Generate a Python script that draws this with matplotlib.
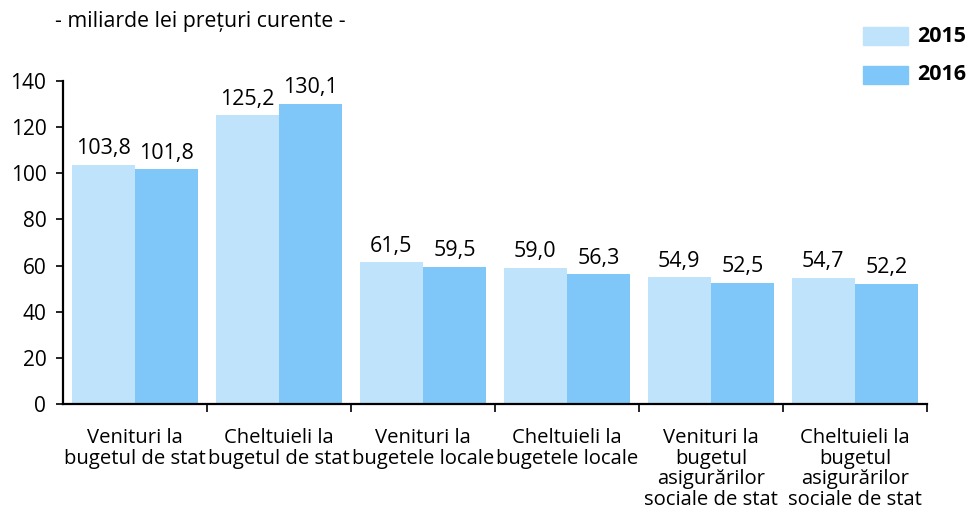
import numpy as np
import matplotlib.pyplot as plt
from matplotlib.patches import Rectangle

categories = [
    "Venituri la\nbugetul de stat",
    "Cheltuieli la\nbugetul de stat",
    "Venituri la\nbugetele locale",
    "Cheltuieli la\nbugetele locale",
    "Venituri la\nbugetul\nasigurărilor\nsociale de stat",
    "Cheltuieli la\nbugetul\nasigurărilor\nsociale de stat",
]
v2015 = [103.8, 125.2, 61.5, 59.0, 54.9, 54.7]
v2016 = [101.8, 130.1, 59.5, 56.3, 52.5, 52.2]
years = ["2015", "2016"]
yticks = [0, 20, 40, 60, 80, 100, 120, 140]

c15 = "#bee3fb"
c16 = "#80c7f9"

plt.rcParams["font.family"] = ["Open Sans", "DejaVu Sans"]

fig = plt.figure(figsize=(9.72, 5.13), dpi=100)
ax = fig.add_axes([63 / 972, 1 - 404 / 513, 864 / 972, 323 / 513])

x = np.arange(len(categories)) + 0.5
w = 0.44
b1 = ax.bar(x - w / 2, v2015, w, color=c15)
b2 = ax.bar(x + w / 2, v2016, w, color=c16)

fmt = lambda v: f"{v:.1f}".replace(".", ",")
for bars, vals in ((b1, v2015), (b2, v2016)):
    for r, v in zip(bars, vals):
        ax.annotate(fmt(v), (r.get_x() + r.get_width() / 2, v), xytext=(0, 4),
                    textcoords="offset points", ha="center", va="bottom", fontsize=15.5)

ax.set_xlim(0, len(categories))
ax.set_ylim(0, 140)
ax.set_yticks(yticks)
ax.set_yticklabels([str(t) for t in yticks], fontsize=15)
ax.tick_params(axis="y", length=5, width=1.2, pad=7)

ax.set_xticks(np.arange(1, len(categories) + 1))
ax.set_xticklabels([])
ax.tick_params(axis="x", which="major", length=6, width=1.2)
ax.set_xticks(x, minor=True)
ax.set_xticklabels(categories, minor=True, fontsize=14.6, linespacing=1.06, va="top")
ax.tick_params(axis="x", which="minor", length=0, pad=17)

for s in ("top", "right"):
    ax.spines[s].set_visible(False)
for s in ("left", "bottom"):
    ax.spines[s].set_linewidth(1.6)

fig.text(55 / 972, 1 - 21 / 513, "- miliarde lei prețuri curente -", fontsize=15.3,
         va="center", ha="left")

for i, (yr, c) in enumerate(zip(years, (c15, c16))):
    yc = 36 + i * 39
    fig.patches.append(Rectangle((863 / 972, 1 - (yc + 9) / 513), 45 / 972, 18 / 513,
                                 transform=fig.transFigure, color=c))
    fig.text(917 / 972, 1 - yc / 513, yr, fontsize=15.5, fontweight="bold",
             va="center", ha="left")

fig.savefig("out.png", dpi=100)
